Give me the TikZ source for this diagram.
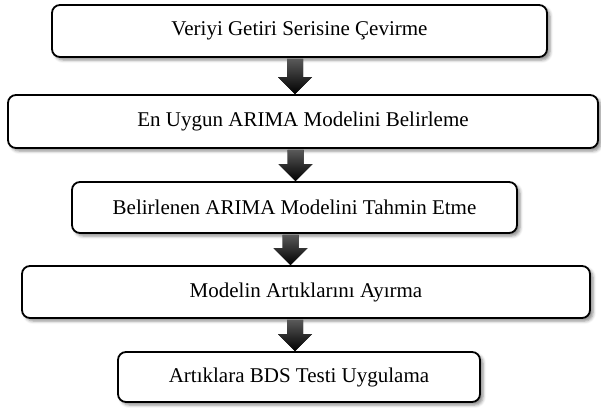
\documentclass[tikz,border=0pt]{standalone}
\usepackage{fontspec}
\setmainfont{Liberation Serif}
\usetikzlibrary{positioning,shadows.blur}

\tikzset{
  stepbox/.style={draw, line width=1.8pt, rounded corners=8pt, fill=white,
    inner sep=0pt, font=\fontsize{21}{25}\selectfont,
    blur shadow={shadow xshift=3pt, shadow yshift=-3pt,
      shadow blur radius=3pt, shadow opacity=45}},
  flowarrow/.style={top color=black!65, bottom color=black, draw=none}
}

\begin{document}
\begin{tikzpicture}[x=1pt, y=-1pt]
    \useasboundingbox (0,0) rectangle (601,407);
    % steps
    \node[stepbox, minimum width=495pt, minimum height=52pt] (s1) at (299.5,31) {Veriyi Getiri Serisine Çevirme};
    \node[stepbox, minimum width=590pt, minimum height=53pt] (s2) at (303,121.5) {En Uygun ARIMA Modelini Belirleme};
    \node[stepbox, minimum width=445pt, minimum height=51pt] (s3) at (294.5,207.5) {Belirlenen ARIMA Modelini Tahmin Etme};
    \node[stepbox, minimum width=568pt, minimum height=52pt] (s4) at (306,292) {Modelin Artıklarını Ayırma};
    \node[stepbox, minimum width=362pt, minimum height=50pt] (s5) at (299,377) {Artıklara BDS Testi Uygulama};
    % block arrows
    \foreach \a/\b/\x in {s1/s2/295, s2/s3/295.5, s3/s4/290.5, s4/s5/295}
        \fill[flowarrow] ([xshift=-8pt,yshift=-1pt]\x,0 |- \a.south) -- ([xshift=8pt,yshift=-1pt]\x,0 |- \a.south)
            -- ([xshift=8pt,yshift=17pt]\x,0 |- \b.north) -- ([xshift=17pt,yshift=17pt]\x,0 |- \b.north)
            -- (\x,0 |- \b.north) -- ([xshift=-17pt,yshift=17pt]\x,0 |- \b.north)
            -- ([xshift=-8pt,yshift=17pt]\x,0 |- \b.north) -- cycle;
\end{tikzpicture}
\end{document}
